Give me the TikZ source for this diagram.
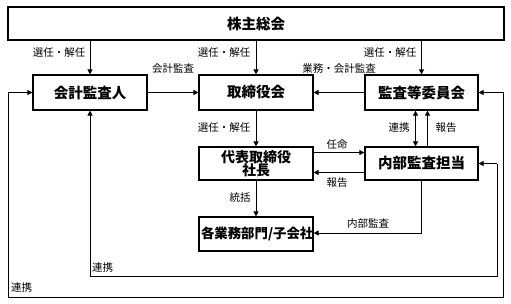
\documentclass[tikz,border=0pt]{standalone}
\usepackage{fontspec}
\setmainfont{Noto Sans CJK JP}
\usetikzlibrary{arrows.meta,calc}
\begin{document}
\begin{tikzpicture}[x=1pt,y=-1pt,
  box/.style={draw,line width=1.2pt,minimum height=34pt,inner sep=1pt,font=\fontsize{14.5}{15}\selectfont\bfseries,align=center},
  lbl/.style={font=\fontsize{10.5}{11}\selectfont,inner sep=1pt},
  arr/.style={line width=1pt,-{Triangle[length=5pt,width=5pt]}},
  darr/.style={line width=1pt,{Triangle[length=5pt,width=5pt]}-{Triangle[length=5pt,width=5pt]}}]
\useasboundingbox (0,0) rectangle (511,303);
\node[box,minimum width=496pt,minimum height=33pt] (top) at (256,23.5) {株主総会};
\node[box,minimum width=114pt,minimum height=35pt] (kaikei) at (90,92.5) {会計監査人};
\node[box,minimum width=114pt,minimum height=35pt] (tori) at (256,92.5) {取締役会};
\node[box,minimum width=113pt,minimum height=35pt] (kansa) at (421.5,92.5) {監査等委員会};
\node[box,minimum width=114pt,minimum height=33pt,font=\fontsize{14}{13.5}\selectfont\bfseries] (daihyo) at (256,163.5) {代表取締役\\社長};
\node[box,minimum width=113pt,minimum height=33pt] (naibu) at (421.5,163.5) {内部監査担当};
\node[box,minimum width=114pt,text width=110pt,minimum height=34pt,inner sep=0pt,font=\fontsize{13.4}{15}\selectfont\bfseries] (kaku) at (256,234) {各業務部門/子会社};
% top arrows
\draw[arr] (top.south -| kaikei.north) -- (kaikei.north);
\draw[arr] (top.south -| tori.north) -- (tori.north);
\draw[arr] (top.south -| kansa.north) -- (kansa.north);
\node[lbl] (l1) at (59,53) {選任・解任};
\node[lbl] (l2) at (224,53) {選任・解任};
\node[lbl] (l3) at (390,53) {選任・解任};
% row 2 horizontal
\draw[arr] (kaikei.east) -- (tori.west);
\node[lbl] (l4) at (173,69) {会計監査};
\draw[arr] (kansa.west) -- (tori.east);
\node[lbl] (l5) at (339,69) {業務・会計監査};
% tori to daihyo
\draw[arr] (tori.south) -- (daihyo.north);
\node[lbl] (l6) at (224,128) {選任・解任};
% daihyo - naibu
\draw[arr] ($(daihyo.east)+(0,-11)$) -- ($(naibu.west)+(0,-11)$);
\node[lbl] (l7) at (337,145) {任命};
\draw[arr] ($(naibu.west)+(0,9)$) -- ($(daihyo.east)+(0,9)$);
\node[lbl] (l8) at (337,183) {報告};
% kansa - naibu
\draw[darr] ($(kansa.south)+(-6,0)$) -- ($(naibu.north)+(-6,0)$);
\node[lbl] (l9) at (399,128) {連携};
\draw[arr] ($(naibu.north)+(6,0)$) -- ($(kansa.south)+(6,0)$);
\node[lbl] (l10) at (446,128) {報告};
% daihyo to kaku
\draw[arr] (daihyo.south) -- (kaku.north);
\node[lbl] (l11) at (240,198) {統括};
% naibu to kaku
\coordinate (c1) at (421.5,233);
\draw[arr] (naibu.south) -- (c1) -- (c1 -| kaku.east);
\node[lbl] (l12) at (368,224) {内部監査};
% inner loop
\coordinate (c2) at (90,276);
\coordinate (c3) at (497,276);
\draw[arr] (c3 |- naibu.east) -- (c3) -- (c2) -- (kaikei.south);
\draw[line width=1pt,-{Triangle[length=5pt,width=5pt]}] (c3 |- naibu.east) -- (naibu.east);
\node[lbl,anchor=west] (l13) at (91,268) {連携};
% outer loop
\coordinate (c4) at (8,297);
\coordinate (c5) at (503,297);
\draw[darr] (kaikei.west) -- (c4 |- kaikei.west) -- (c4) -- (c5) -- (c5 |- kansa.east) -- (kansa.east);
\node[lbl,anchor=west] (l14) at (10,288) {連携};
\end{tikzpicture}
\end{document}
